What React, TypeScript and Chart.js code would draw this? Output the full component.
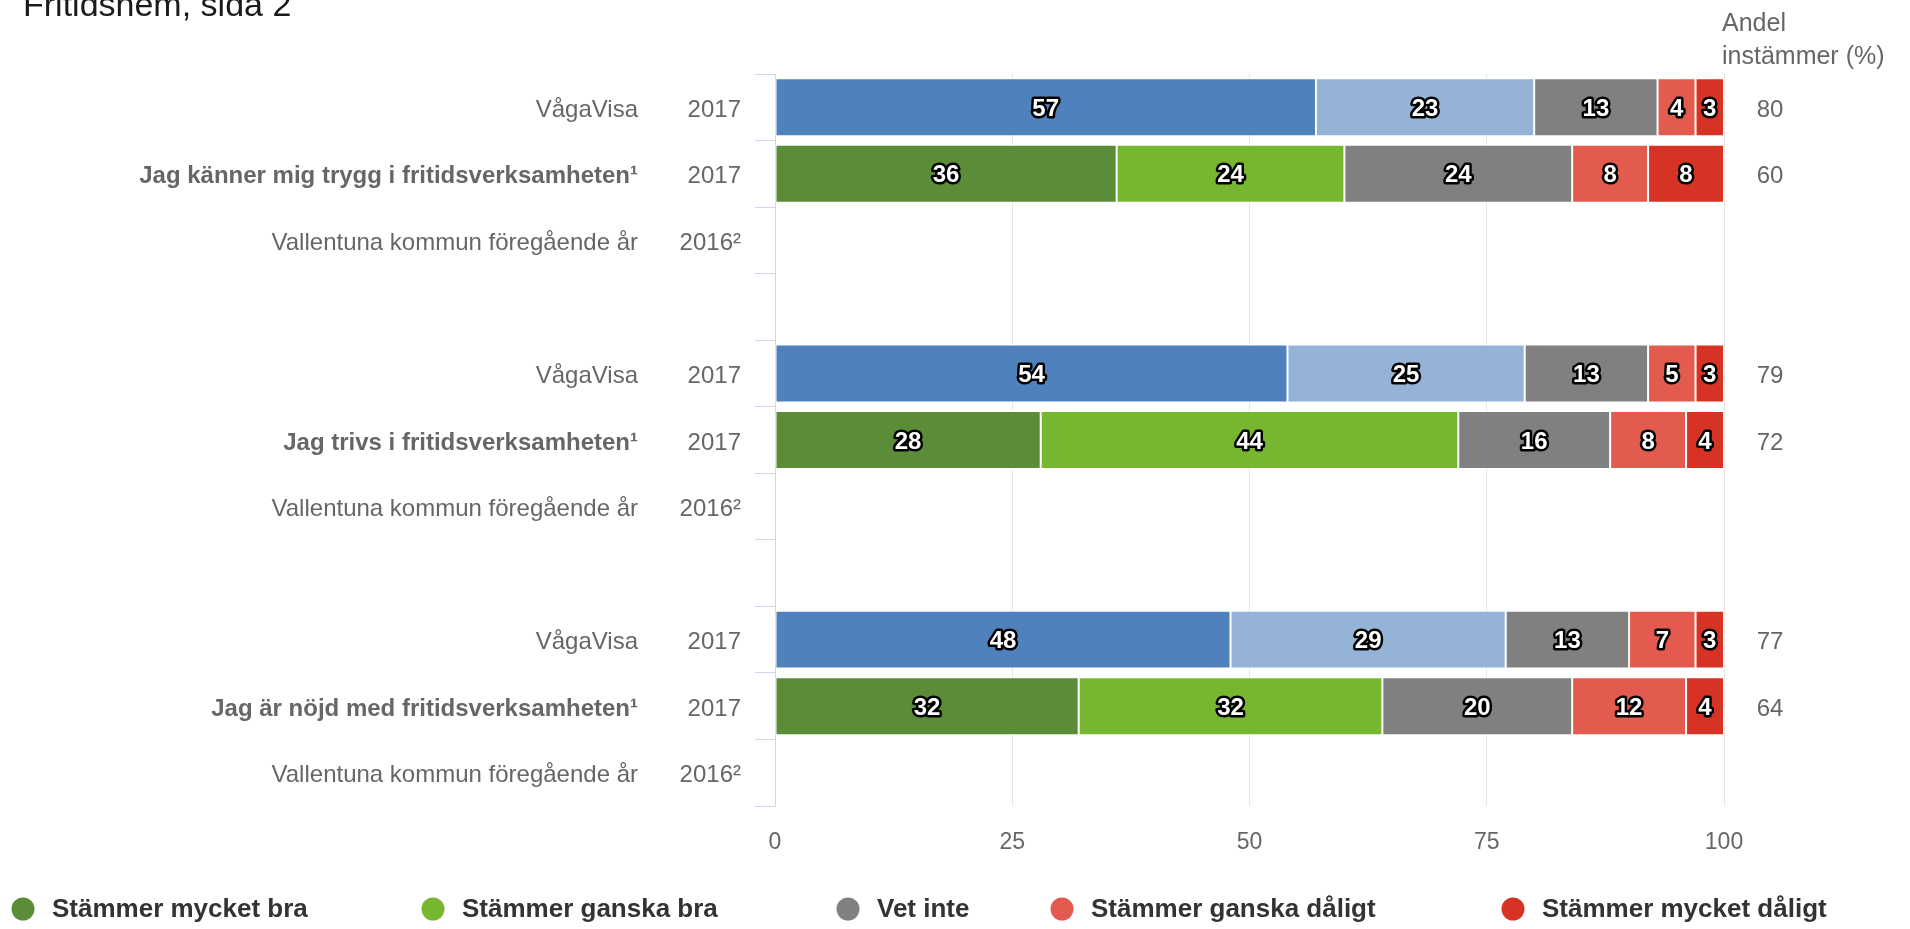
import React, { useEffect, useRef } from "react";
import { Chart, registerables } from "chart.js";

Chart.register(...registerables);

const chartTitle = "Fritidshem, sida 2";
const rightHeader = ["Andel", "instämmer (%)"];

const rowLabels = [
  "VågaVisa",
  "Jag känner mig trygg i fritidsverksamheten¹",
  "Vallentuna kommun föregående år",
  "",
  "VågaVisa",
  "Jag trivs i fritidsverksamheten¹",
  "Vallentuna kommun föregående år",
  "",
  "VågaVisa",
  "Jag är nöjd med fritidsverksamheten¹",
  "Vallentuna kommun föregående år",
];
const rowYears = ["2017", "2017", "2016²", "", "2017", "2017", "2016²", "", "2017", "2017", "2016²"];
const boldRows = [false, true, false, false, false, true, false, false, false, true, false];

const seriesNames = [
  "Stämmer mycket bra",
  "Stämmer ganska bra",
  "Vet inte",
  "Stämmer ganska dåligt",
  "Stämmer mycket dåligt",
];
const mycketBra = [57, 36, null, null, 54, 28, null, null, 48, 32, null];
const ganskaBra = [23, 24, null, null, 25, 44, null, null, 29, 32, null];
const vetInte = [13, 24, null, null, 13, 16, null, null, 13, 20, null];
const ganskaDaligt = [4, 8, null, null, 5, 8, null, null, 7, 12, null];
const mycketDaligt = [3, 8, null, null, 3, 4, null, null, 3, 4, null];
const andelInstammer = [80, 60, null, null, 79, 72, null, null, 77, 64, null];

const xTicks = [0, 25, 50, 75, 100];

const seriesColors = ["#5b8c37", "#77b72f", "#808080", "#e35b4f", "#d73325"];
const benchmarkColors = ["#4f81bd", "#95b3d7"];

const FONT = '"Liberation Sans", Arial, Helvetica, sans-serif';

export default function App() {
  const canvasRef = useRef<HTMLCanvasElement | null>(null);

  useEffect(() => {
    const canvas = canvasRef.current;
    if (!canvas) return;
    Chart.defaults.font.family = FONT;

    const seriesValues = [mycketBra, ganskaBra, vetInte, ganskaDaligt, mycketDaligt];

    const datasets = seriesValues.map((vals, k) => ({
      label: seriesNames[k],
      data: vals,
      backgroundColor: rowLabels.map((lab) =>
        lab === "VågaVisa" && k < 2 ? benchmarkColors[k] : seriesColors[k]
      ),
      borderColor: "#ffffff",
      borderWidth: 1,
      borderSkipped: false as any,
      categoryPercentage: 0.87,
      barPercentage: 1,
    }));

    const decorations = {
      id: "decorations",
      afterDatasetsDraw(chart: any) {
        const ctx = chart.ctx as CanvasRenderingContext2D;
        ctx.save();
        ctx.font = `bold 24px ${FONT}`;
        ctx.textAlign = "center";
        ctx.textBaseline = "middle";
        ctx.lineJoin = "round";
        chart.data.datasets.forEach((ds: any, di: number) => {
          const meta = chart.getDatasetMeta(di);
          meta.data.forEach((el: any, i: number) => {
            const v = ds.data[i];
            if (v === null || v === undefined) return;
            const cx = (el.x + el.base) / 2;
            const cy = el.y + 2;
            const txt = String(v);
            ctx.lineWidth = 5;
            ctx.strokeStyle = "#000000";
            ctx.strokeText(txt, cx, cy);
            ctx.fillStyle = "#ffffff";
            ctx.fillText(txt, cx, cy);
          });
        });
        ctx.restore();
      },
      afterDraw(chart: any) {
        const ctx = chart.ctx as CanvasRenderingContext2D;
        const yScale = chart.scales.y;
        ctx.save();

        // Title
        ctx.fillStyle = "#1a1a1a";
        ctx.font = `34px ${FONT}`;
        ctx.textAlign = "left";
        ctx.textBaseline = "alphabetic";
        ctx.fillText(chartTitle, 23, 16);

        // Right header
        ctx.fillStyle = "#666666";
        ctx.font = `25px ${FONT}`;
        ctx.fillText(rightHeader[0], 1722, 31);
        ctx.fillText(rightHeader[1], 1722, 64);

        // Row labels
        ctx.textBaseline = "middle";
        rowLabels.forEach((lab, i) => {
          const y = yScale.getPixelForValue(i) + 3;
          ctx.fillStyle = "#666666";
          ctx.textAlign = "right";
          ctx.font = `${boldRows[i] ? "bold " : ""}24px ${FONT}`;
          if (lab) ctx.fillText(lab, 638, y);
          ctx.font = `24px ${FONT}`;
          if (rowYears[i]) ctx.fillText(rowYears[i], 741, y);
          const a = andelInstammer[i];
          if (a !== null && a !== undefined) {
            ctx.textAlign = "center";
            ctx.fillText(String(a), 1770, y);
          }
        });

        // Legend
        const legendX = [23, 433, 848, 1062, 1513];
        const legendY = 909;
        ctx.font = `bold 26px ${FONT}`;
        ctx.textAlign = "left";
        ctx.textBaseline = "middle";
        seriesNames.forEach((name, k) => {
          const x = legendX[k];
          ctx.beginPath();
          ctx.arc(x, legendY, 11.5, 0, Math.PI * 2);
          ctx.fillStyle = seriesColors[k];
          ctx.fill();
          ctx.fillStyle = "#333333";
          ctx.fillText(name, x + 29, legendY + 1);
        });

        ctx.restore();
      },
    };

    const chart = new Chart(canvas, {
      type: "bar",
      data: { labels: rowLabels.map((l, i) => `${l} ${rowYears[i]}`), datasets: datasets as any },
      options: {
        indexAxis: "y",
        responsive: false,
        animation: false,
        devicePixelRatio: 1,
        layout: { padding: { left: 755, right: 186, top: 74, bottom: 0 } },
        plugins: {
          legend: { display: false },
          tooltip: { enabled: false },
          title: { display: false },
        },
        scales: {
          x: {
            stacked: true,
            min: 0,
            max: 100,
            afterBuildTicks(scale: any) {
              scale.ticks = xTicks.map((v) => ({ value: v }));
            },
            afterFit(scale: any) {
              scale.height = 123;
            },
            grid: { color: "#e6e6e6", lineWidth: 1, drawTicks: false },
            border: { display: false },
            ticks: { color: "#666666", font: { size: 23, family: FONT }, padding: 23 },
          },
          y: {
            stacked: true,
            grid: {
              offset: true,
              drawOnChartArea: false,
              drawTicks: true,
              tickLength: 20,
              color: "#ccd6eb",
              lineWidth: 1,
            },
            border: { display: true, color: "#ccd6eb", width: 1 },
            ticks: { display: false },
          },
        },
      },
      plugins: [decorations],
    });

    return () => chart.destroy();
  }, []);

  return (
    <div style={{ position: "fixed", left: 0, top: 0, width: 1910, height: 929, background: "#ffffff" }}>
      <canvas ref={canvasRef} width={1910} height={929} style={{ display: "block", width: 1910, height: 929 }} />
    </div>
  );
}
